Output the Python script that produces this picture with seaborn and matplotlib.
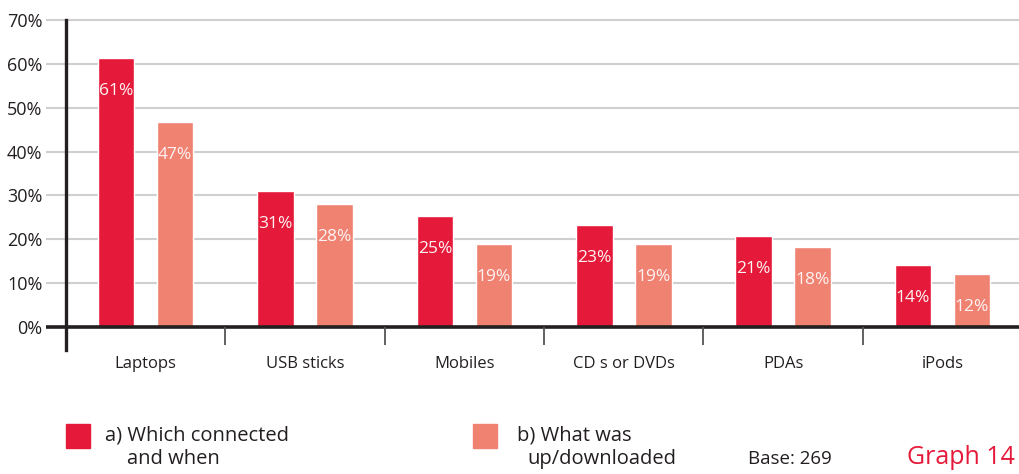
import pandas as pd
import matplotlib.pyplot as plt
import seaborn as sns
from matplotlib.patches import Rectangle

# -------------------------------
# Data
# -------------------------------
devices = ["Laptops", "USB sticks", "Mobiles", "CD s or DVDs", "PDAs", "iPods"]
connected = [61.4, 31.0, 25.3, 23.2, 20.7, 14.1]
downloaded = [46.8, 28.0, 18.9, 18.9, 18.2, 12.0]
series_names = ["a) Which connected and when", "b) What was up/downloaded"]
yticks = [0, 10, 20, 30, 40, 50, 60, 70]

red = "#E51A3A"
salmon = "#F08272"
dark = "#231F20"

df = pd.DataFrame({
    "device": devices * 2,
    "pct": connected + downloaded,
    "series": [series_names[0]] * len(devices) + [series_names[1]] * len(devices),
})

sns.set_style("white")
plt.rcParams["font.family"] = ["Open Sans", "DejaVu Sans"]

fig = plt.figure(figsize=(10.19, 4.74), dpi=100)
ax = fig.add_axes([66 / 1019, 124 / 474, 1 - 66 / 1019, 330 / 474])

sns.barplot(
    data=df, x="device", y="pct", hue="series", order=devices,
    hue_order=series_names, palette=[red, salmon],
    width=0.74, gap=0.38, saturation=1, legend=False, ax=ax,
)

ax.set_xlim(-0.5, 5.48)
ax.set_ylim(-5.24, 70)

# gridlines, running a little left of the axis
x0 = -0.5 - 20 / 159.3
for v in yticks[1:]:
    ax.hlines(v, x0, 5.48, color="#cfcfcf", lw=1.5, zorder=0, clip_on=False)
ax.hlines(0, x0, 5.48, color=dark, lw=2.6, zorder=3, clip_on=False)

# separators between groups
for i in range(len(devices) - 1):
    ax.vlines(i + 0.5, -4.0, 0, color="#555555", lw=1.3, zorder=3)

# value labels inside bars
for cont, vals in zip(ax.containers, [connected, downloaded]):
    for bar, v in zip(cont, vals):
        ax.annotate(f"{v:.0f}%", (bar.get_x() + bar.get_width() / 2, v),
                    xytext=(0, -33), textcoords="offset pixels",
                    ha="center", va="center", color="#FDF3F3", fontsize=12.5)

for s in ["top", "right", "bottom"]:
    ax.spines[s].set_visible(False)
ax.spines["left"].set_color(dark)
ax.spines["left"].set_linewidth(2.4)

ax.set_yticks(yticks)
ax.set_yticklabels([f"{v}%" for v in yticks])
ax.tick_params(axis="y", length=0, pad=17, labelsize=13, labelcolor=dark)
ax.tick_params(axis="x", length=0, pad=4, labelsize=12, labelcolor=dark)
ax.set_xlabel("")
ax.set_ylabel("")

# legend and footnotes
H = 474
fig.patches.append(Rectangle((66 / 1019, 1 - 448 / H), 24 / 1019, 24 / H,
                             transform=fig.transFigure, color=red))
fig.patches.append(Rectangle((473 / 1019, 1 - 448 / H), 24 / 1019, 24 / H,
                             transform=fig.transFigure, color=salmon))
fig.text(105 / 1019, 1 - 436 / H, "a) Which connected", fontsize=14.5, color=dark, va="center")
fig.text(127 / 1019, 1 - 459 / H, "and when", fontsize=14.5, color=dark, va="center")
fig.text(517 / 1019, 1 - 436 / H, "b) What was", fontsize=14.5, color=dark, va="center")
fig.text(527 / 1019, 1 - 459 / H, "up/downloaded", fontsize=14.5, color=dark, va="center")
fig.text(748 / 1019, 1 - 459 / H, "Base: 269", fontsize=13.5, color=dark, va="center")
fig.text(1015 / 1019, 1 - 457 / H, "Graph 14", fontsize=18, color=red, va="center", ha="right")

fig.savefig("out.png", dpi=100)
